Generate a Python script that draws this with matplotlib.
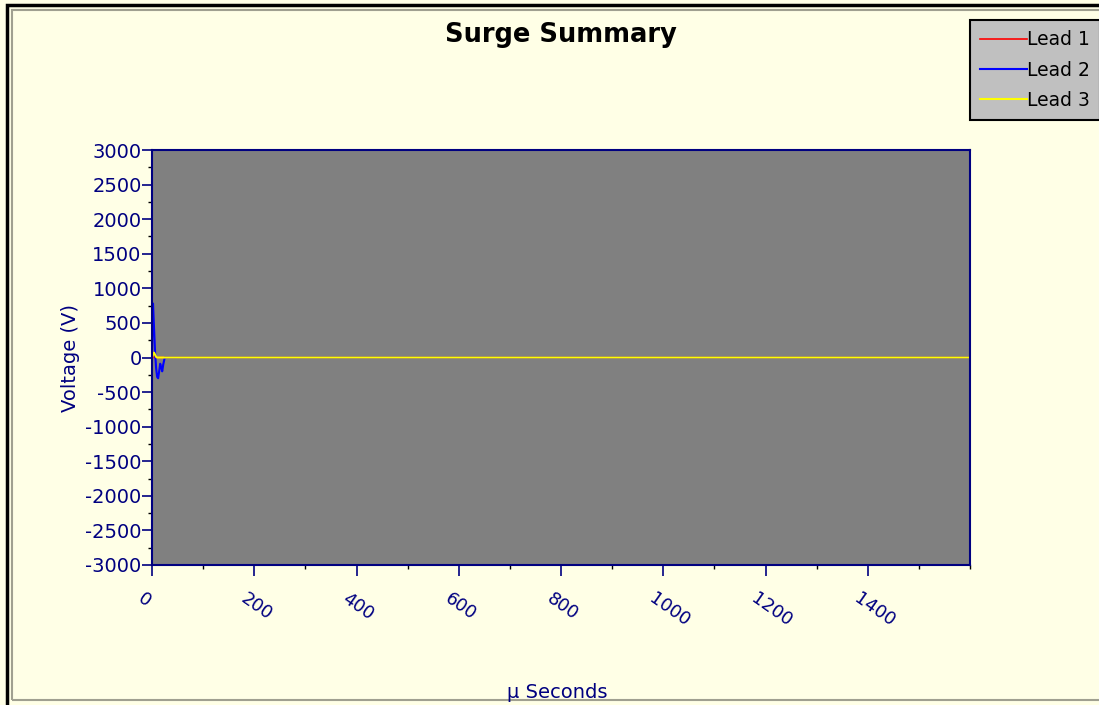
import matplotlib
matplotlib.use("Agg")
import matplotlib.pyplot as plt
import matplotlib.transforms as mtrans
from matplotlib.patches import Rectangle
from matplotlib.ticker import MultipleLocator

# surge waveforms (µs, V)
t_lead1 = [0, 1, 2, 3, 4, 6, 8, 1600]
v_lead1 = [0, 40, 70, 30, 0, 0, 0, 0]
t_lead2 = [0, 1, 2, 3, 4, 5, 6, 8, 10, 12, 14, 16, 18, 20, 22, 25, 30, 1600]
v_lead2 = [0, 700, 780, 600, 420, 250, 80, -150, -280, -300, -200, -90, -140, -200, -100, 0, 0, 0]
t_lead3 = [0, 2, 4, 6, 8, 10, 1600]
v_lead3 = [0, 40, 70, 40, 10, 0, 0]

yticks = list(range(-3000, 3001, 500))
xticks = list(range(0, 1401, 200))

navy = "#000080"
plt.rcParams['font.family'] = ['DejaVu Sans']
plt.rcParams['axes.unicode_minus'] = False

fig = plt.figure(figsize=(10.99, 7.05), dpi=100)
fig.patch.set_facecolor("#FFFFE6")

# window borders
fig.patches.append(Rectangle((7/1099, -0.01), 1.1, 1.0 - 5/705 + 0.01, transform=fig.transFigure,
                             fill=False, edgecolor="black", linewidth=2.5))
fig.patches.append(Rectangle((12/1099, 5/705), 1.1, 1.0 - 15/705, transform=fig.transFigure,
                             fill=False, edgecolor="#A0A090", linewidth=1.5))

ax = fig.add_axes([152/1099, 140/705, 818/1099, 415/705])
ax.set_facecolor("#808080")

ax.plot(t_lead1, v_lead1, color="red", lw=1.2, label="Lead 1")
ax.plot(t_lead2, v_lead2, color="blue", lw=1.5, label="Lead 2")
ax.plot(t_lead3, v_lead3, color="yellow", lw=1.5, label="Lead 3")

ax.set_xlim(0, 1600)
ax.set_ylim(-3000, 3000)
ax.set_yticks(yticks)
ax.set_xticks(xticks)
ax.xaxis.set_minor_locator(MultipleLocator(100))
ax.yaxis.set_minor_locator(MultipleLocator(250))

for s in ax.spines.values():
    s.set_color(navy)
    s.set_linewidth(1.5)

ax.tick_params(axis="both", colors=navy, labelcolor=navy, direction="out")
ax.tick_params(axis="y", which="major", length=7, width=1.2, pad=0.5, labelsize=14)
ax.tick_params(axis="y", which="minor", length=3, width=1)
ax.tick_params(axis="x", which="major", length=8, width=1.2, pad=10, labelsize=13)
ax.tick_params(axis="x", which="minor", length=3, width=1)
shift = mtrans.ScaledTranslation(-7/100, 0, fig.dpi_scale_trans)
for lbl in ax.get_xticklabels():
    lbl.set_rotation(-35)
    lbl.set_ha("left")
    lbl.set_va("top")
    lbl.set_rotation_mode("anchor")
    lbl.set_transform(lbl.get_transform() + shift)

ax.set_ylabel("Voltage (V)", color=navy, fontsize=14)
ax.yaxis.set_label_coords((80 - 152)/818, 0.5)
fig.text(557/1099, 1 - 692/705, "µ Seconds", color=navy, fontsize=14, ha="center", va="center")
fig.text(561/1099, 1 - 35/705, "Surge Summary", fontsize=18.5, fontweight="bold", ha="center", va="center")

leg = fig.legend(loc="upper left", bbox_to_anchor=(970/1099, 1 - 20/705), fontsize=13.5,
                 frameon=True, fancybox=False, facecolor="#C0C0C0", edgecolor="black",
                 handlelength=2.5, handletextpad=0.0, borderpad=0.55, labelspacing=0.6,
                 borderaxespad=0)
leg.get_frame().set_linewidth(1.5)
leg.get_frame().set_alpha(1)

fig.savefig("out.png", dpi=100, facecolor=fig.get_facecolor())
